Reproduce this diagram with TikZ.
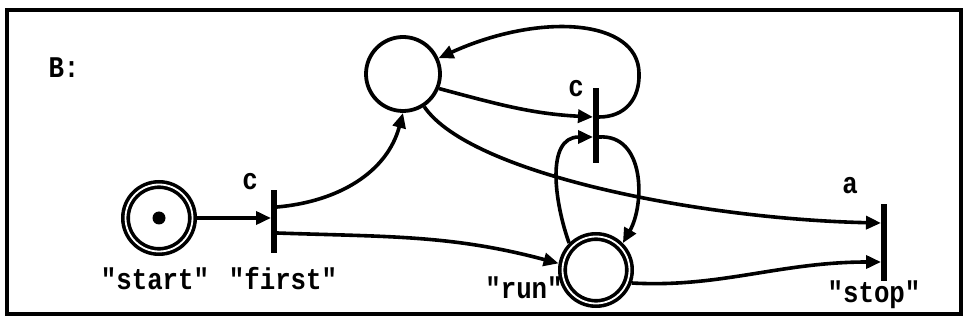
\documentclass[tikz,border=0pt]{standalone}
\usepackage{fontspec}
\setmonofont{Liberation Mono}[FakeStretch=0.86]
\usetikzlibrary{arrows.meta,positioning}

\begin{document}
\begin{tikzpicture}[x=1pt,y=1pt,
    font=\fontsize{30}{32}\selectfont\ttfamily\bfseries,
    >={Triangle[length=15pt,width=13pt]},
    place/.style={circle,draw,line width=3.8pt,minimum size=74pt,inner sep=0pt},
    final/.style={place,double,line width=3.6pt,double distance=1.8pt,minimum size=67pt,outer sep=4.5pt},
    trans/.style={rectangle,fill,minimum width=6pt,inner sep=0pt,outer sep=0pt},
    arc/.style={->,line width=3.6pt},
    lbl/.style={inner sep=0pt}]

    \useasboundingbox (0,0) rectangle (967,324);
    \draw[line width=4pt] (7,10) rectangle (961,314);

    \node[lbl] (B) at (64,256) {B:};

    \node[final] (start) at (159,106) {};
    \fill (start.center) circle (6.5);
    \node[trans,minimum height=63pt] (first) at (274,102.5) {};
    \node[place] (top) at (403,250) {};
    \node[trans,minimum height=75pt] (again) at (596,198.5) {};
    \node[final] (run) at (596,54) {};
    \node[trans,minimum height=77pt] (stop) at (884,81) {};

    \node[lbl] (startname) at (155,45) {"start"};
    \node[lbl] (firstname) at (283,45) {"first"};
    \node[lbl] (runname) at (524,36) {"run"};
    \node[lbl] (stopname) at (874,29) {"stop"};
    \node[lbl] (firstc) at (250,142) {c};
    \node[lbl] (againc) at (576,235) {c};
    \node[lbl] (stopa) at (850,138) {a};

    \draw[arc] (start.east) -- (start.east -| first.west);
    \draw[arc] ([yshift=14.5pt]first.east) to[out=5,in=-105] (top.south);
    \draw[arc] ([yshift=-11.5pt]first.east) to[out=-2,in=165] (run.170);
    \draw[arc] (top.-22) to[out=-15,in=177] ([yshift=8.5pt]again.west);
    \draw[arc] ([yshift=8.5pt]again.east) .. controls (625,207) and (640,225) .. (639,251)
      .. controls (638,305) and (540,312) .. (top.24);
    \draw[arc] (run.135) .. controls (555,120) and (545,187) .. ([yshift=-11.5pt]again.west);
    \draw[arc] ([yshift=-11.5pt]again.east) .. controls (645,190) and (645,120) .. (run.45);
    \draw[arc] (top.-57) .. controls (470,150) and (700,105) .. ([yshift=20pt]stop.west);
    \draw[arc] (run.-20) .. controls (720,36) and (780,62) .. ([yshift=-19pt]stop.west);
\end{tikzpicture}
\end{document}
